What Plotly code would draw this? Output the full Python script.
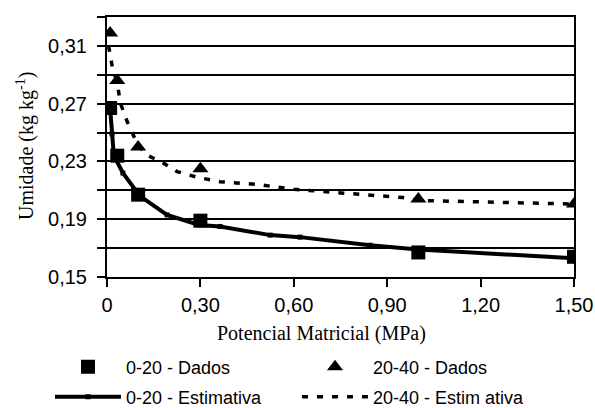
import plotly.graph_objects as go

# Data
x_dados = [0.01, 0.033, 0.1, 0.3, 1.0, 1.5]
y_0_20_dados = [0.267, 0.234, 0.207, 0.189, 0.167, 0.164]
y_20_40_dados = [0.319, 0.286, 0.240, 0.225, 0.204, 0.2005]

x_est_0_20 = [0.01, 0.016, 0.022, 0.051, 0.09, 0.106, 0.193, 0.296, 0.363, 0.524, 0.62, 0.845, 1.0, 1.5]
y_est_0_20 = [0.267, 0.249, 0.234, 0.222, 0.210, 0.206, 0.193, 0.186, 0.185, 0.179, 0.1776, 0.172, 0.169, 0.163]

x_est_20_40 = [0.005, 0.01, 0.019, 0.033, 0.042, 0.064, 0.084, 0.1, 0.132, 0.18, 0.225, 0.29, 0.363,
               0.485, 0.6, 0.73, 0.835, 0.9, 0.95, 1.0, 1.1, 1.3, 1.5]
y_est_20_40 = [0.310, 0.303, 0.293, 0.285, 0.271, 0.258, 0.249, 0.241, 0.234, 0.229, 0.223, 0.219, 0.216,
               0.214, 0.2107, 0.2086, 0.207, 0.2063, 0.205, 0.203, 0.2025, 0.201, 0.2005]

y_tickvals = [0.15, 0.17, 0.19, 0.21, 0.23, 0.25, 0.27, 0.29, 0.31, 0.33]
y_ticktext = ["0,15", "", "0,19", "", "0,23", "", "0,27", "", "0,31", ""]
x_tickvals = [0, 0.3, 0.6, 0.9, 1.2, 1.5]
x_ticktext = ["0", "0,30", "0,60", "0,90", "1,20", "1,50"]
x_title = "Potencial Matricial (MPa)"
y_title = "Umidade (kg kg<sup>-1</sup>)"

fig = go.Figure()

fig.add_trace(go.Scatter(x=x_est_0_20, y=y_est_0_20, mode="lines+markers", name="0-20 - Estimativa",
                         line=dict(color="black", width=4),
                         marker=dict(symbol="square", size=5, color="black"),
                         legend="legend3"))
fig.add_trace(go.Scatter(x=x_est_20_40, y=y_est_20_40, mode="lines", name="20-40 - Estim ativa",
                         line=dict(color="black", width=3.5, dash="6px,9px"),
                         legend="legend4"))
fig.add_trace(go.Scatter(x=x_dados, y=y_0_20_dados, mode="markers", name="0-20 - Dados",
                         marker=dict(symbol="square", size=14, color="black"),
                         legend="legend"))
fig.add_trace(go.Scatter(x=x_dados, y=y_20_40_dados, mode="markers", name="20-40 - Dados",
                         marker=dict(symbol="triangle-up", size=14, color="black"),
                         legend="legend2"))

tick_font = dict(family="Liberation Sans, Arial, sans-serif", size=20, color="black")
title_font = dict(family="Liberation Serif, Times New Roman, serif", size=20, color="black")
legend_font = dict(family="Liberation Sans, Arial, sans-serif", size=18, color="black")

W, H = 595, 408


def leg(xpx, ypx):
    return dict(orientation="v", xref="container", yref="container",
                x=xpx / W, xanchor="left", y=1 - ypx / H, yanchor="middle",
                itemwidth=66, font=legend_font, bgcolor="rgba(0,0,0,0)")


fig.update_layout(
    width=W, height=H,
    margin=dict(l=107, r=21, t=17, b=131, autoexpand=False),
    paper_bgcolor="white", plot_bgcolor="white",
    showlegend=True,
    legend=leg(50, 367),
    legend2=leg(297, 367),
    legend3=leg(50, 397),
    legend4=leg(297, 397),
    annotations=[
        dict(text=x_title, xref="paper", yref="paper", x=(321 - 107) / 467, y=-(333 - 277) / 260,
             xanchor="center", yanchor="middle", showarrow=False, font=title_font),
        dict(text=y_title, xref="paper", yref="paper", x=-(107 - 25) / 467, y=(277 - 146) / 260,
             xanchor="center", yanchor="middle", showarrow=False, font=title_font, textangle=-90),
    ],
)

fig.update_xaxes(range=[0, 1.5], tickvals=x_tickvals, ticktext=x_ticktext,
                 showgrid=False, zeroline=False, automargin=False,
                 showline=True, linecolor="black", linewidth=2, mirror=True,
                 ticks="outside", ticklen=8, tickwidth=1.5, tickcolor="black",
                 ticklabelstandoff=1, tickfont=tick_font)
fig.update_yaxes(range=[0.15, 0.33], tickvals=y_tickvals, ticktext=y_ticktext,
                 showgrid=True, gridcolor="black", gridwidth=1.5, zeroline=False, automargin=False,
                 showline=True, linecolor="black", linewidth=2, mirror=True,
                 ticks="outside", ticklen=8, tickwidth=1.5, tickcolor="black",
                 ticklabelstandoff=6, tickfont=tick_font)

fig.write_html("out.html")
